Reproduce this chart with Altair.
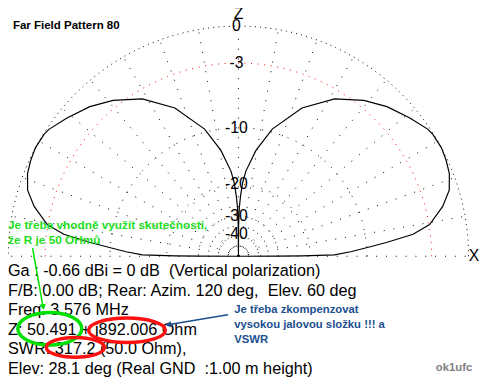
import altair as alt
import pandas as pd

TITLE = "Far Field Pattern 80"

# elevation angle (deg) and relative gain (dB) of the right-hand lobe; left lobe is its mirror
ELEV = [0, 0.1, 0.35, 0.8, 2.3, 3.9, 5.3, 7.2, 9.4, 13.7, 17.4, 21.4, 24.8, 28.1,
        32, 33.8, 38.9, 45.2, 51.2, 58.6, 66.8, 75.1, 80.6, 85, 86.7, 88, 89, 89.7, 90]
GAIN_DB = [-99, -30, -22, -15, -12.3, -9.9, -7.5, -4.6, -2.95, -1.55, -0.7, -0.27, -0.1, 0,
           -0.05, -0.15, -0.75, -1.5, -2.4, -3.8, -6.1, -9.6, -13.1, -17, -19.5, -23, -27, -35, -99]

RING_DB = [0, -3, -10, -20, -30, -40]
RING_LABELS = ["0", "-3", "-10", "-20", "-30", "-40"]
SPOKES = list(range(0, 181, 10))

NB = "\u00a0"
INFO = [
    "Ga : -0.66 dBi = 0 dB " + NB + "(Vertical polarization)",
    "F/B: 0.00 dB; Rear: Azim. 120 deg, " + NB + "Elev. 60 deg",
    "Freq: 3.576 MHz",
    "Z: 50.491 + j892.006 Ohm",
    "SWR: 317.2 (50.0 Ohm),",
    "Elev: 28.1 deg (Real GND " + NB + ":1.00 m height)",
]
GREEN_NOTE = ["Je třeba vhodně využít skutečnosti,", "že R je 50 OHmů"]
BLUE_NOTE = ["Je třeba zkompenzovat", "vysokou jalovou složku !!! a", "VSWR"]
AUTHOR = "ok1ufc"

W, H = 476, 372
CX, CY, R0 = 234.3, 249.3, 234.0
xs = alt.Scale(domain=[-CX / R0, (W - CX) / R0], nice=False, zero=False)
ys = alt.Scale(domain=[(CY - H) / R0, CY / R0], nice=False, zero=False)
X = lambda f: alt.X(f, type="quantitative", scale=xs, axis=None)
Y = lambda f: alt.Y(f, type="quantitative", scale=ys, axis=None)

FONT = "Liberation Sans"
GREEN = "#22dd22"
RED = "#ff1010"
BLUE = "#1c4f8f"

# pattern, both halves
angles = ELEV + [180 - e for e in reversed(ELEV)]
gains = GAIN_DB + list(reversed(GAIN_DB))
pat = pd.DataFrame({"ang": angles, "db": gains, "i": range(len(angles))})

pattern = alt.Chart(pat).transform_calculate(
    r="pow(0.89, -datum.db / 2)",
    x="datum.r * cos(datum.ang * PI / 180)",
    y="datum.r * sin(datum.ang * PI / 180)",
).mark_line(color="black", strokeWidth=1.2).encode(
    x=X("x"), y=Y("y"), order="i:Q"
)

rings_df = pd.DataFrame({"db": RING_DB})


def ring_layer(flt, color, dash):
    return alt.Chart(rings_df).transform_filter(flt).transform_calculate(
        a="sequence(0, 180.5, 0.5)"
    ).transform_flatten(["a"]).transform_calculate(
        r="pow(0.89, -datum.db / 2)",
        x="datum.r * cos(datum.a * PI / 180)",
        y="datum.r * sin(datum.a * PI / 180)",
    ).mark_line(strokeWidth=1, strokeDash=dash, color=color).encode(
        x=X("x"), y=Y("y"), order="a:Q", detail="db:N",
    )


rings = (ring_layer("datum.db == 0", "black", [1, 4.3])
         + ring_layer("datum.db == -3", "#ff0000", [1, 5.7])
         + ring_layer("datum.db < -3", "black", [1, 8]))

spokes = alt.Chart(pd.DataFrame({"a": SPOKES})).transform_calculate(
    x0="0", y0="0",
    x1="cos(datum.a * PI / 180)",
    y1="sin(datum.a * PI / 180)",
).mark_rule(color="black", strokeWidth=1, strokeDash=[1, 9]).encode(
    x=X("x0"), y=Y("y0"), x2="x1:Q", y2="y1:Q"
)

ring_labels = alt.Chart(pd.DataFrame({"db": RING_DB, "lab": RING_LABELS})).transform_calculate(
    x="0", y="pow(0.89, -datum.db / 2)"
).mark_text(font=FONT, fontSize=16, align="center", baseline="middle", dx=-2, color="black").encode(
    x=X("x"), y=Y("y"), text="lab:N"
)

one = pd.DataFrame({"k": [0]})


def txt(text, x, y, align="left", baseline="alphabetic", **kw):
    return alt.Chart(one).mark_text(text=text, align=align, baseline=baseline, **kw).encode(
        x=alt.value(x), y=alt.value(y)
    )


def ellipse(x, y, w, h, color):
    b = h / w
    k = 0.5523
    p = (f"M -1 0 C -1 {-k*b:.4f} {-k:.4f} {-b:.4f} 0 {-b:.4f} "
         f"C {k:.4f} {-b:.4f} 1 {-k*b:.4f} 1 0 "
         f"C 1 {k*b:.4f} {k:.4f} {b:.4f} 0 {b:.4f} "
         f"C {-k:.4f} {b:.4f} -1 {k*b:.4f} -1 0 Z")
    return alt.Chart(one).mark_point(shape=p, size=w * w, filled=False, stroke=color,
                                     strokeWidth=3.5, opacity=1).encode(
        x=alt.value(x), y=alt.value(y)
    )


def arrow(x1, y1, x2, y2, color, angle):
    line = alt.Chart(one).mark_rule(color=color, strokeWidth=1.5).encode(
        x=alt.value(x1), y=alt.value(y1), x2=alt.value(x2), y2=alt.value(y2)
    )
    head = alt.Chart(one).mark_point(shape="triangle", size=45, filled=True, color=color,
                                     opacity=1, angle=angle).encode(
        x=alt.value(x2), y=alt.value(y2)
    )
    return line + head


layers = [
    rings, spokes, pattern, ring_labels,
    txt("Z", 234.3, 8.5, font=FONT, fontSize=16, align="center"),
    txt("X", 473.7, 249.5, font=FONT, fontSize=16, align="center", baseline="middle"),
    txt(TITLE, 5, 18, font="Liberation Sans", fontSize=11.7, fontWeight="bold"),
    txt(INFO, 0, 269.7, font=FONT, fontSize=16.5, lineHeight=19.8, color="black"),
    txt(GREEN_NOTE, 0, 222, font="Liberation Sans", fontSize=12, fontWeight="bold",
        lineHeight=15, color=GREEN),
    txt(BLUE_NOTE, 230, 307, font="Liberation Sans", fontSize=11.5, fontWeight="bold",
        lineHeight=15, color=BLUE),
    txt(AUTHOR, 435, 366, font="Liberation Sans", fontSize=11.5, fontWeight="bold", color="#808080"),
    ellipse(42.5, 323, 65, 33, "#00e000"),
    ellipse(121, 324.5, 78, 25, RED),
    ellipse(68.5, 342, 59, 20, RED),
    arrow(25, 241, 35.5, 300, "#00e000", 169.5),
    arrow(223.7, 308.7, 164, 318.7, BLUE, 259.7),
]

chart = alt.layer(*layers).properties(
    width=W, height=H,
    padding={"left": 0, "top": 0, "right": 8, "bottom": 0},
    autosize="none",
).configure_view(stroke=None)

chart.save("out.html", embed_options={"renderer": "svg", "actions": False})
